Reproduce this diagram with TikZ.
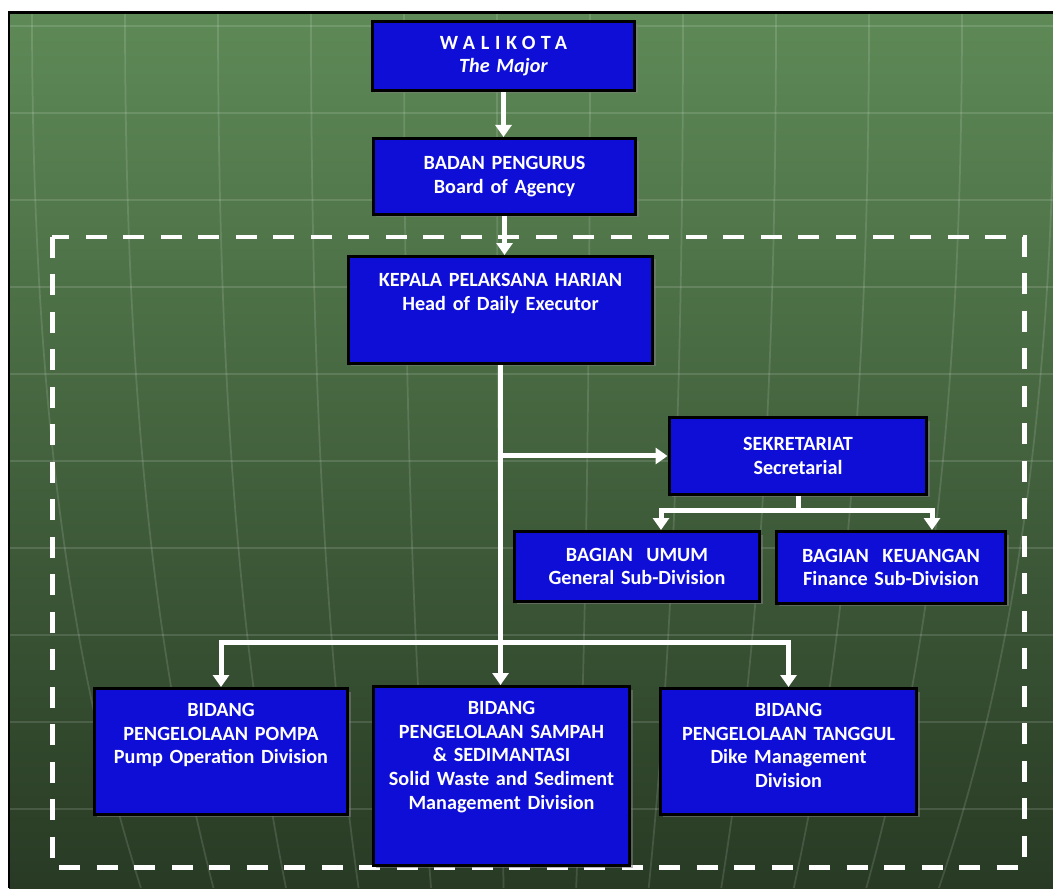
\documentclass[tikz,border=0pt]{standalone}
\usepackage{fontspec}
\setmainfont{Carlito}
\usetikzlibrary{arrows.meta,positioning,calc,shadows}

\definecolor{unitblue}{RGB}{14,14,214}
\definecolor{bgtop}{RGB}{94,138,87}
\definecolor{bgmid}{RGB}{66,100,60}
\definecolor{bgbot}{RGB}{40,58,36}

\begin{document}
\begin{tikzpicture}[
    x=0.02cm, y=-0.02cm,
    >={Triangle[width=3.2mm,length=2.4mm]},
    flow/.style={->,line width=1mm,draw=white},
    frame/.style={draw=white,line width=1mm,dash pattern=on 4.2mm off 3.3mm},
    grid/.style={draw=white,opacity=0.13,line width=0.35mm},
    unit/.style={draw=black,line width=0.6mm,fill=unitblue,text=white,
      align=center,inner sep=0pt,anchor=north,
      font=\bfseries\fontsize{11.5}{13.5}\selectfont,
      drop shadow={shadow xshift=0.6mm,shadow yshift=-0.6mm,opacity=0.55}},
    topunit/.style={unit,text height=0.56cm}
  ]
    \useasboundingbox (0,0) rectangle (1053,888);
    % background
    \fill[white] (0,0) rectangle (1053,888);
    \shade[top color=bgtop,middle color=bgmid,bottom color=bgbot] (9,13) rectangle (1053,888);
    \begin{scope}
      \clip (9,13) rectangle (1053,888);
      \foreach \gy in {26,113,...,809}
        \draw[grid] (9,\gy) -- (1053,\gy);
      \foreach \mx in {32,125,...,1055}
        \draw[grid] (\mx,13) .. controls (\mx,450) and ({527+(\mx-527)*0.9},700) .. ({527+(\mx-527)*0.78},888);
    \end{scope}
    \draw[black,line width=0.6mm] (9,888) -- (9,13) -- (1053,13);
    \draw[frame] (52,237) rectangle (1024,867);

    % units
    \node[unit,text width=5.26cm,minimum height=1.38cm] (walikota) at (503.5,20)
      {{\addfontfeature{LetterSpace=28}WALIKOTA}\\\textit{The Major}};
    \node[unit,text width=5.26cm,minimum height=1.52cm] (badan) at (504.5,137)
      {BADAN PENGURUS\\Board of Agency};
    \node[topunit,text width=6.1cm,text height=0.6cm,text depth=1.54cm] (kepala) at (500.5,255)
      {KEPALA PELAKSANA HARIAN\\Head of Daily Executor};
    \node[unit,text width=5.16cm,minimum height=1.54cm] (sekre) at (798,416)
      {SEKRETARIAT\\Secretarial};
    \node[unit,text width=4.92cm,minimum height=1.4cm] (umum) at (637,530)
      {BAGIAN~~UMUM\\General Sub-Division};
    \node[unit,text width=4.6cm,minimum height=1.44cm] (keuangan) at (891,530)
      {BAGIAN~~KEUANGAN\\Finance Sub-Division};
    \node[topunit,text width=5.08cm,text depth=1.96cm] (pompa) at (221,687)
      {BIDANG\\PENGELOLAAN POMPA\\Pump Operation Division};
    \node[topunit,text width=5.14cm,text depth=3.02cm] (sampah) at (501.5,685)
      {BIDANG\\PENGELOLAAN SAMPAH\\\& SEDIMANTASI\\Solid Waste and Sediment\\Management Division};
    \node[topunit,text width=5.14cm,text depth=1.96cm] (tanggul) at (788.5,687)
      {BIDANG\\PENGELOLAAN TANGGUL\\Dike Management\\Division};

    % connectors
    \draw[flow] (walikota.south) -- (walikota.south |- badan.north);
    \draw[flow] (badan.south) -- (badan.south |- kepala.north);
    \draw[flow] (kepala.south) -- (kepala.south |- sampah.north);
    \draw[flow] (kepala.south |- sekre.west) -- (sekre.west);
    \draw[flow] (sekre.south) -- ++(0,15) -| ([xshift=0.48cm]umum.north);
    \draw[flow] (sekre.south) -- ++(0,15) -| ([xshift=0.82cm]keuangan.north);
    \draw[flow] ([yshift=0.86cm]sampah.north) -| (pompa.north);
    \draw[flow] ([yshift=0.86cm]sampah.north) -| (tanggul.north);
  \end{tikzpicture}
\end{document}
